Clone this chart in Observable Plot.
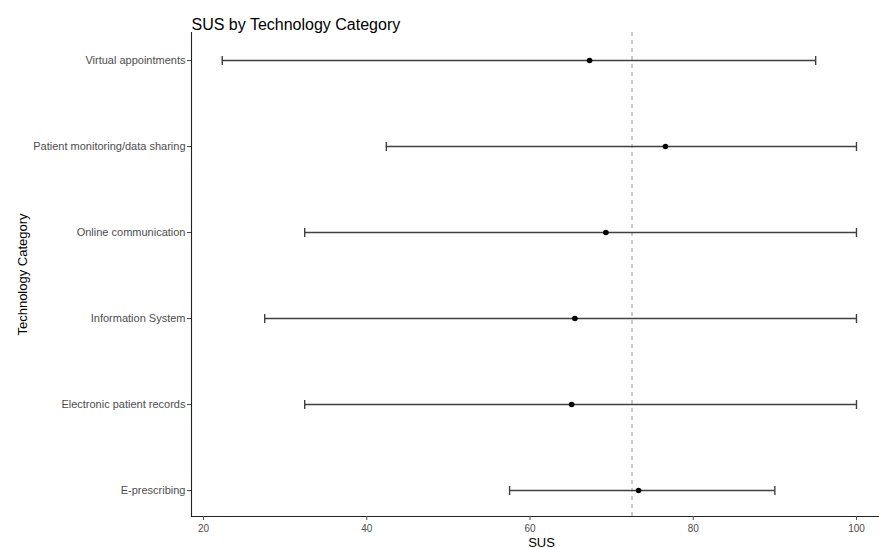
<!DOCTYPE html>
<html>
<head>
<meta charset="utf-8">
<script src="https://cdn.jsdelivr.net/npm/d3@7"></script>
<script src="https://cdn.jsdelivr.net/npm/@observablehq/plot@0.6"></script>
<style>
  html, body { margin: 0; padding: 0; background: #fff; }
  #chart { width: 879px; height: 549px; }
</style>
</head>
<body>
<div id="chart"></div>
<script>
const categories = ["Virtual appointments", "Patient monitoring/data sharing", "Online communication", "Information System", "Electronic patient records", "E-prescribing"];
const means = [67.3, 76.6, 69.3, 65.5, 65.1, 73.3];
const lows = [22.3, 42.4, 32.4, 27.5, 32.4, 57.5];
const highs = [95, 100, 100, 100, 100, 90];
const refLine = [72.5];
const xTicks = [20, 40, 60, 80, 100];
const title = "SUS by Technology Category";
const xTitle = "SUS";
const yTitle = "Technology Category";

const data = categories.map((c, i) => ({cat: c, mean: means[i], lo: lows[i], hi: highs[i]}));
const xMin = 18.53, xMax = 102.82;

// vertical cap symbol for error bar ends
const capSymbol = {
  draw(context, size) {
    const h = 4.5;
    context.moveTo(0, -h);
    context.lineTo(0, h);
  }
};

const plot = Plot.plot({
  width: 879,
  height: 549,
  marginLeft: 191,
  marginRight: 0,
  marginTop: 32,
  marginBottom: 33,
  style: {fontFamily: "'Liberation Sans', Arial, sans-serif", background: "#fff"},
  x: {domain: [xMin, xMax], label: null},
  y: {type: "point", domain: categories, range: [59, 491], padding: 0, label: null},
  marks: [
    Plot.ruleX(refLine, {stroke: "#a0a0a0", strokeWidth: 1.1, strokeDasharray: "4,4"}),
    Plot.ruleY(data, {y: "cat", x1: "lo", x2: "hi", stroke: "#404040", strokeWidth: 1.4}),
    Plot.dot(data, {x: "lo", y: "cat", symbol: capSymbol, fill: "none", stroke: "#404040", strokeWidth: 1.4}),
    Plot.dot(data, {x: "hi", y: "cat", symbol: capSymbol, fill: "none", stroke: "#404040", strokeWidth: 1.4}),
    Plot.dot(data, {x: "mean", y: "cat", r: 2.8, fill: "#000", stroke: null}),
    Plot.ruleX([xMin], {stroke: "#222", strokeWidth: 1.1}),
    Plot.frame({anchor: "bottom", stroke: "#222", strokeWidth: 1.1}),
    Plot.axisX({ticks: xTicks, tickSize: 4, tickPadding: 4, fontSize: 10, color: "#4d4d4d", label: null}),
    Plot.axisY({tickSize: 4, tickPadding: 2, fontSize: 11, color: "#4d4d4d", label: null}),
    Plot.text([xTitle], {frameAnchor: "bottom", dx: 6, dy: 30, fontSize: 13, fill: "#000"}),
    Plot.text([yTitle], {frameAnchor: "left", textAnchor: "middle", dx: -169, rotate: -90, fontSize: 13, fill: "#000"}),
    Plot.text([title], {frameAnchor: "top-left", dy: -14, textAnchor: "start", fontSize: 16, fill: "#000"})
  ]
});
document.getElementById("chart").appendChild(plot);
</script>
</body>
</html>
